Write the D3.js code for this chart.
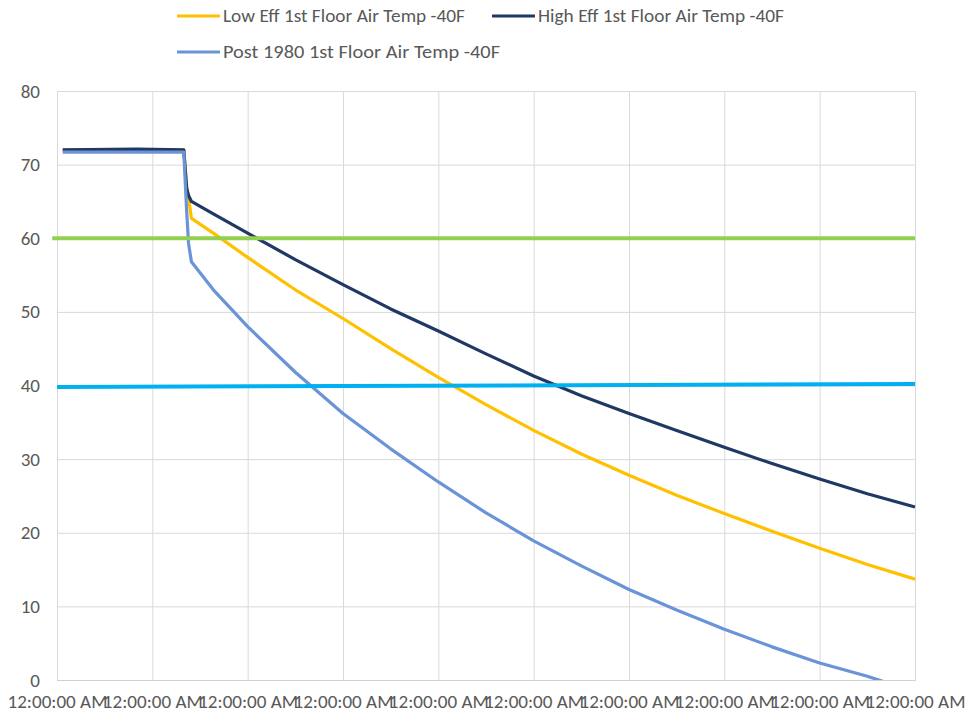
<!DOCTYPE html>
<html>
<head>
<meta charset="utf-8">
<script src="https://cdn.jsdelivr.net/npm/d3@7"></script>
<style>
  body { margin: 0; background: #fff; }
  svg text { font-family: Carlito, Calibri, 'Open Sans', sans-serif; fill: #595959; }
</style>
</head>
<body>
<svg id="container" width="966" height="715"></svg>
<script>
// time in days since start
const days = [0.06, 0.84, 1.33, 1.36, 1.38, 1.41, 1.64, 2, 2.5, 3, 3.5, 4, 4.5, 5, 5.5, 6, 6.5, 7, 7.5, 8, 8.5, 9]
const lowEff = [72.0, 72.0, 72.0, 67.0, 65.5, 62.7, 60.7, 57.4, 53.0, 49.1, 45.0, 41.1, 37.4, 33.9, 30.7, 27.8, 25.1, 22.6, 20.2, 17.9, 15.7, 13.7]
const highEff = [72.0, 72.1, 72.0, 66.8, 65.8, 65.0, 63.3, 60.7, 57.1, 53.7, 50.4, 47.4, 44.3, 41.3, 38.6, 36.2, 33.9, 31.6, 29.4, 27.3, 25.3, 23.5]
const post1980 = [71.7, 71.7, 71.7, 63.7, 59.3, 56.8, 53.0, 48.0, 41.8, 36.2, 31.4, 26.9, 22.7, 18.9, 15.5, 12.3, 9.5, 6.9, 4.5, 2.3, 0.5, -1.6]

// reference lines
const greenDays = [-0.05, 9]
const greenVals = [60, 60]
const cyanDays = [0, 9]
const cyanVals = [39.8, 40.2]

const yTicks = [0, 10, 20, 30, 40, 50, 60, 70, 80]
const xTicks = [0, 1, 2, 3, 4, 5, 6, 7, 8, 9]
const xLabels = ['12:00:00 AM', '12:00:00 AM', '12:00:00 AM', '12:00:00 AM', '12:00:00 AM',
  '12:00:00 AM', '12:00:00 AM', '12:00:00 AM', '12:00:00 AM', '12:00:00 AM']

const legendNames = ['Low Eff 1st Floor Air Temp -40F', 'High Eff 1st Floor Air Temp -40F', 'Post 1980 1st Floor Air Temp -40F']

const svg = d3.select('#container')
const plotL = 57, plotR = 915, plotT = 91, plotB = 680

const xScale = d3.scaleLinear().domain([0, 9]).range([plotL, plotR])
const yScale = d3.scaleLinear().domain([0, 80]).range([plotB, plotT])

// horizontal grid + y labels
const yAxis = d3.axisLeft(yScale).tickValues(yTicks).tickSize(-(plotR - plotL)).tickPadding(17)
const yG = svg.append('g').attr('transform', `translate(${plotL},0)`).call(yAxis)
yG.select('.domain').remove()
yG.selectAll('line').attr('stroke', '#d9d9d9')
yG.selectAll('text').style('font-size', '19px').attr('fill', '#595959')

// vertical grid + x labels
const xAxis = d3.axisBottom(xScale).tickValues(xTicks).tickSize(-(plotB - plotT)).tickPadding(15)
  .tickFormat((d, i) => xLabels[i])
const xG = svg.append('g').attr('transform', `translate(0,${plotB})`).call(xAxis)
xG.select('.domain').attr('stroke', '#d0d0d0')
xG.selectAll('line').attr('stroke', '#d9d9d9')
xG.selectAll('text').style('font-size', '18px').attr('fill', '#595959')
  .attr('textLength', 100).attr('lengthAdjust', 'spacingAndGlyphs')

svg.append('clipPath').attr('id', 'plot')
  .append('rect').attr('x', 0).attr('y', plotT).attr('width', plotR + 2).attr('height', plotB - plotT)

const line = d3.line().x((d) => xScale(d[0])).y((d) => yScale(d[1]))
const series = [
  { vals: lowEff, xs: days, color: '#ffc000', w: 3.2 },
  { vals: highEff, xs: days, color: '#203864', w: 3.2 },
  { vals: post1980, xs: days, color: '#6b93d8', w: 3.2 },
  { vals: greenVals, xs: greenDays, color: '#92d050', w: 4 },
  { vals: cyanVals, xs: cyanDays, color: '#00b0f0', w: 4 }
]

svg.append('g').attr('clip-path', 'url(#plot)')
  .selectAll('path')
  .data(series)
  .enter()
  .append('path')
  .attr('d', (s) => line(s.xs.map((x, i) => [x, s.vals[i]])))
  .attr('fill', 'none')
  .attr('stroke', (s) => s.color)
  .attr('stroke-width', (s) => s.w)
  .attr('stroke-linejoin', 'round')

// legend
const legendPos = [[177, 16], [492, 16], [177, 52]]
const legendWidths = [242, 246, 277]
const lg = svg.append('g')
  .selectAll('g')
  .data(legendNames)
  .enter()
  .append('g')
  .attr('transform', (d, i) => `translate(${legendPos[i][0]},${legendPos[i][1]})`)
lg.append('line').attr('x1', 0).attr('x2', 43).attr('stroke-width', 3.2)
  .attr('stroke', (d, i) => series[i].color)
lg.append('text').attr('x', 46).attr('dy', '0.35em').style('font-size', '18px')
  .attr('textLength', (d, i) => legendWidths[i])
  .attr('lengthAdjust', 'spacingAndGlyphs')
  .text((d) => d)
</script>
</body>
</html>
